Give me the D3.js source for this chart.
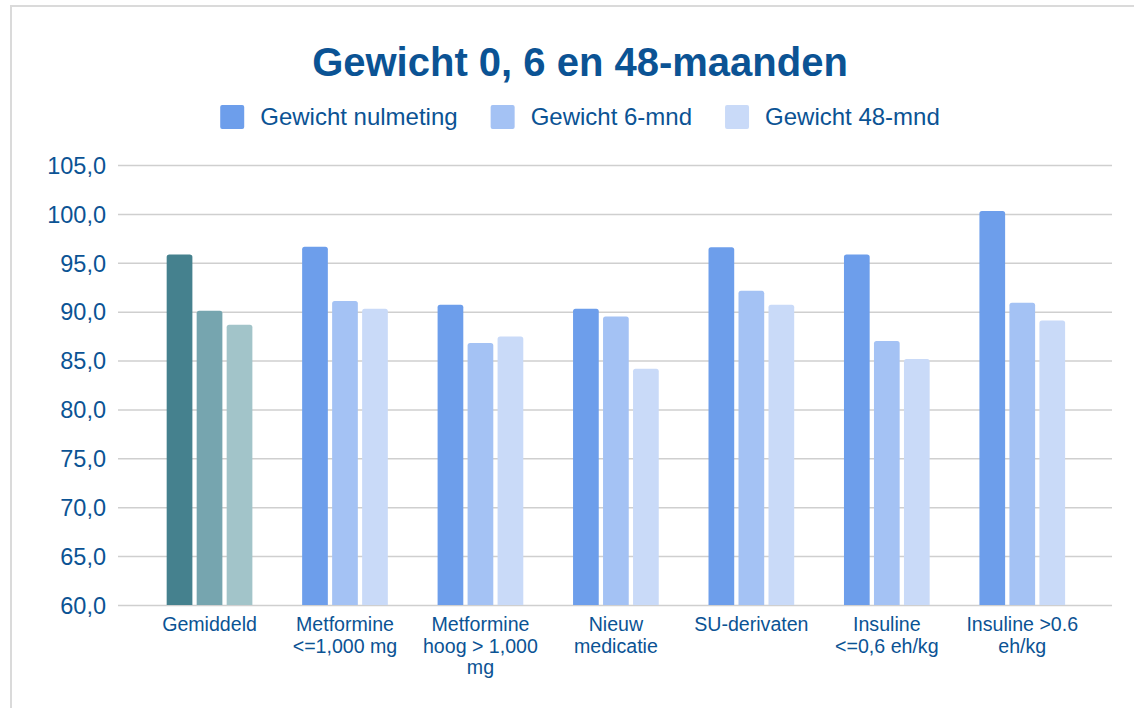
<!DOCTYPE html>
<meta charset="utf-8">
<title>Gewicht 0, 6 en 48-maanden</title>
<style>
	body { margin: 0; background: #fff; }
	svg { display: block; font-family: "Liberation Sans", Arial, sans-serif; }
	.grid line { stroke: #cfcfcf; stroke-width: 1.5px; }
	.grid text { fill: #0b5394; font-size: 23.5px; }
	.xlabel { fill: #0b5394; font-size: 19.6px; }
	.legend text { fill: #0b5394; font-size: 24px; }
	.title { fill: #0b5394; font-size: 40px; font-weight: bold; }
</style>
<body>
<script src="https://d3js.org/d3.v7.min.js"></script>
<script>
	// data
	const categories = ['Gemiddeld', 'Metformine <=1,000 mg', 'Metformine hoog > 1,000 mg', 'Nieuw medicatie', 'SU-derivaten', 'Insuline <=0,6 eh/kg', 'Insuline >0.6 eh/kg'];
	const categoryLines = [
		['Gemiddeld'],
		['Metformine', '<=1,000 mg'],
		['Metformine', 'hoog > 1,000', 'mg'],
		['Nieuw', 'medicatie'],
		['SU-derivaten'],
		['Insuline', '<=0,6 eh/kg'],
		['Insuline >0.6', 'eh/kg']
	];
	const seriesNames = ['Gewicht nulmeting', 'Gewicht 6-mnd', 'Gewicht 48-mnd'];
	const nulmeting = [95.85, 96.65, 90.7, 90.3, 96.6, 95.85, 100.3];
	const maand6    = [90.1, 91.1, 86.8, 89.5, 92.15, 87.0, 90.9];
	const maand48   = [88.65, 90.3, 87.45, 84.15, 90.7, 85.15, 89.1];
	const yTicks = [60, 65, 70, 75, 80, 85, 90, 95, 100, 105];

	const colors = ['#6d9eeb', '#a4c2f4', '#c9daf8'];
	const colorsAvg = ['#45818e', '#76a5af', '#a2c4c9'];

	const width = 1134, height = 708;
	const svg = d3.select('body').append('svg')
		.attr('width', width)
		.attr('height', height);

	// outer frame
	svg.append('rect')
		.attr('x', 11).attr('y', 6)
		.attr('width', width + 20).attr('height', height + 20)
		.attr('fill', 'none')
		.attr('stroke', '#dadada')
		.attr('stroke-width', 2);

	svg.append('text')
		.attr('class', 'title')
		.attr('x', 580).attr('y', 76)
		.attr('text-anchor', 'middle')
		.text('Gewicht 0, 6 en 48-maanden');

	const y = d3.scaleLinear().domain([60, 105]).range([605, 165]);
	const x0 = d3.scaleBand().domain(categories).range([141.8, 1090]);
	const x1 = d3.scaleBand().domain(seriesNames).range([0, 90]).paddingInner(0.143).paddingOuter(0.0717);

	const fmt = d3.formatLocale({ decimal: ',', thousands: '.', grouping: [3], currency: ['', ''] }).format('.1f');

	const gridLeft = 118, gridRight = 1112;
	const grid = svg.append('g')
		.attr('class', 'grid')
		.attr('transform', `translate(${gridLeft},0)`)
		.call(d3.axisLeft(y).tickValues(yTicks).tickFormat(fmt)
			.tickSize(-(gridRight - gridLeft)).tickSizeOuter(0).tickPadding(12));
	grid.select('.domain').remove();
	grid.selectAll('text').attr('dy', '0.35em');

	// rounded-top bar
	function barPath(bx, by, bw, bh, r) {
		return `M${bx},${by + bh} V${by + r} Q${bx},${by} ${bx + r},${by} H${bx + bw - r} Q${bx + bw},${by} ${bx + bw},${by + r} V${by + bh} Z`;
	}

	const rows = categories.map((c, i) => ({
		cat: c, i: i,
		values: [nulmeting[i], maand6[i], maand48[i]]
	}));

	const groups = svg.append('g').selectAll('g').data(rows).enter()
		.append('g')
		.attr('transform', d => `translate(${x0(d.cat) + x0.bandwidth() / 2 - 45},0)`);

	groups.selectAll('path').data(d => d.values.map((v, k) => ({ v: v, k: k, avg: d.i === 0 })))
		.enter().append('path')
		.attr('fill', d => (d.avg ? colorsAvg : colors)[d.k])
		.attr('d', d => barPath(x1(seriesNames[d.k]), y(d.v), x1.bandwidth(), y(60) - y(d.v), 2.5));

	// x labels
	const xl = svg.append('g').selectAll('text').data(rows).enter()
		.append('text')
		.attr('class', 'xlabel')
		.attr('text-anchor', 'middle')
		.attr('x', d => x0(d.cat) + x0.bandwidth() / 2)
		.attr('y', 631);
	xl.selectAll('tspan').data(d => categoryLines[d.i].map(t => ({ t: t, x: x0(d.cat) + x0.bandwidth() / 2 })))
		.enter().append('tspan')
		.attr('x', d => d.x)
		.attr('dy', (d, j) => j === 0 ? 0 : 21.7)
		.text(d => d.t);

	// legend
	const legend = svg.append('g').attr('class', 'legend');
	let lx = 0;
	seriesNames.forEach((s, k) => {
		const item = legend.append('g').attr('transform', `translate(${lx},0)`);
		item.append('rect')
			.attr('x', 0).attr('y', 105)
			.attr('width', 24).attr('height', 24)
			.attr('rx', 2)
			.attr('fill', colors[k]);
		const t = item.append('text')
			.attr('x', 40).attr('y', 117)
			.attr('dy', '0.35em')
			.text(s);
		lx += 40 + t.node().getComputedTextLength() + 33;
	});
	const lw = lx - 33;
	legend.attr('transform', `translate(${580 - lw / 2},0)`);
</script>
</body>
